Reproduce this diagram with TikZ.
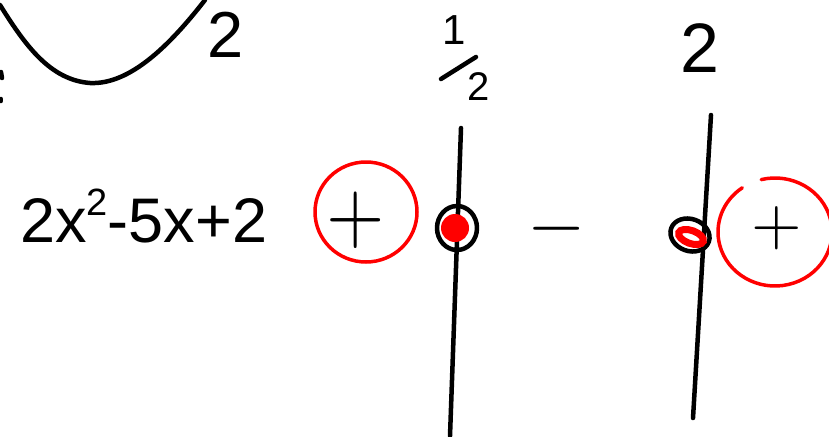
\documentclass[tikz,border=0pt]{standalone}
\usepackage{graphicx}
\usepackage{fontspec}
\setmainfont{Liberation Sans}
\begin{document}
\begin{tikzpicture}[x=1pt,y=-1pt,
  ink/.style={line width=4.5pt,line cap=round,line join=round},
  redink/.style={draw=red,line width=3.5pt,line cap=round,line join=round},
  hand/.style={inner sep=0pt,anchor=base},
  big/.style={hand,font=\fontsize{65}{65}\selectfont},
  sign/.style={inner sep=0pt,anchor=center}]
\useasboundingbox (0,0) rectangle (829,436);
% parabola sketch
\draw[ink] (0,5) .. controls (25,45) and (50,80) .. (90,83) .. controls (130,85) and (170,45) .. (205,0);
\draw[ink] (1,72) -- (2,78);
\draw[ink] (1,99) -- (1,101);
\node[big] (ptwo) at (226,57) {2};
% labels of the roots
\node[hand,font=\fontsize{42}{42}\selectfont] (one) at (454,45) {1};
\node[hand,font=\fontsize{40}{40}\selectfont] (half) at (479,100) {2};
\draw[ink] (441,79) -- (476,57);
\node[hand,font=\fontsize{70}{70}\selectfont] (two) at (700,73) {2};
% vertical lines
\coordinate (l1t) at (461,128); \coordinate (l1b) at (450,436);
\coordinate (l2t) at (711,115); \coordinate (l2b) at (693,418);
\draw[ink] (l1t) -- (l1b);
\draw[ink] (l2t) -- (l2b);
% expression
\node[hand,anchor=base west,font=\fontsize{63}{63}\selectfont] (expr) at (20,242)
  {2x\raisebox{0.42em}{\fontsize{38}{38}\selectfont 2}-5x+2};
% signs
\node[sign] (plusA) at (356,220) {\scalebox{7.5}[8.5]{$+$}};
\draw[redink] (366,212) circle [x radius=51, y radius=50];
\node[sign] (minus) at (557,229) {\scalebox{7.5}{$-$}};
\node[sign] (plusB) at (777,228) {\scalebox{6.5}{$+$}};
\draw[redink] (775,232) ++(256:57 and 54) arc [start angle=256, end angle=595, x radius=57, y radius=54];
% root points
\fill[red] (455,228) circle [radius=14];
\draw[ink] (457,228) circle [x radius=20, y radius=22];
\draw[ink,rotate around={-20:(690,235)}] (690,235) ellipse [x radius=20, y radius=16];
\draw[red,line width=7pt,fill=white,rotate around={-20:(691,237)}] (691,237) ellipse [x radius=13, y radius=6.5];
\end{tikzpicture}
\end{document}
